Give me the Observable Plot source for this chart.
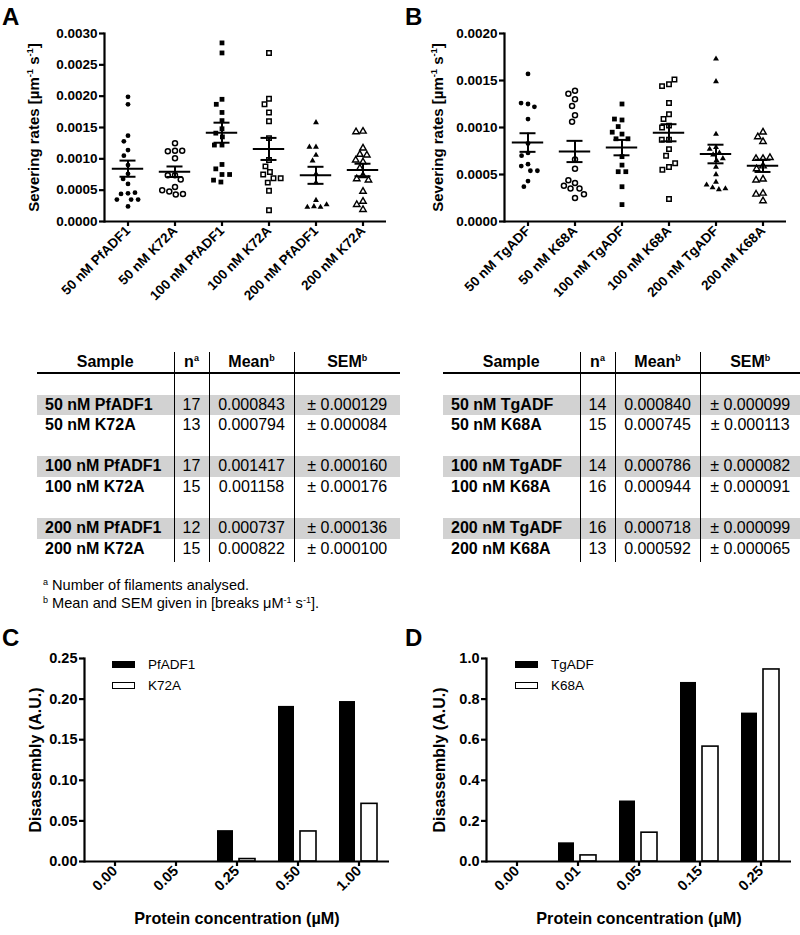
<!DOCTYPE html>
<html><head><meta charset="utf-8">
<script src="https://cdn.jsdelivr.net/npm/d3@7"></script>
<script src="https://cdn.jsdelivr.net/npm/@observablehq/plot@0.6"></script>
<style>
body{margin:0;background:#fff;}
#fig{position:relative;width:800px;height:935px;font-family:"Liberation Sans",Arial,sans-serif;color:#000;overflow:hidden;background:#fff;}
.panel{position:absolute;}
.letter{position:absolute;font-weight:bold;font-size:24px;line-height:24px;}
table.t{position:absolute;border-collapse:collapse;table-layout:fixed;font-size:16px;}
table.t td{padding:0;height:20.6px;line-height:20.6px;text-align:center;white-space:nowrap;}
table.t tr.hd td{font-weight:bold;height:20px;line-height:20px;border-bottom:2.6px solid #000;}
table.t td+td{border-left:1.6px solid #000;}
table.t td.s{text-align:left;padding-left:8px;font-weight:bold;}
table.t tr.g td{background:#d2d2d2;}
table.t sup{font-size:9px;vertical-align:6px;line-height:0;}
.foot{position:absolute;font-size:14.6px;line-height:18px;}
.foot sup{font-size:9px;vertical-align:5px;line-height:0;}
.legend{position:absolute;font-size:13.5px;}
.legend div{position:relative;height:21px;line-height:21px;}
.legend span.sw{position:absolute;left:0;top:7px;width:23px;height:7px;box-sizing:border-box;border:1.5px solid #000;}
.legend span.tx{position:absolute;left:36px;top:0;}
</style>
</head><body>
<div id="fig"></div>
<script>
// ---------------- DATA ----------------
// Panel A (PfADF1 / K72A)
const samplesA = ["50 nM PfADF1","50 nM K72A","100 nM PfADF1","100 nM K72A","200 nM PfADF1","200 nM K72A"];
const nA    = [17, 13, 17, 15, 12, 15];
const meanA = [0.000843, 0.000794, 0.001417, 0.001158, 0.000737, 0.000822];
const semA  = [0.000129, 0.000084, 0.000160, 0.000176, 0.000136, 0.000100];
const a50wt   = [0.00199,0.00187,0.00137,0.00128,0.00114,0.00105,0.00090,0.00076,0.00068,0.00060,0.00045,0.00044,0.00046,0.00035,0.00035,0.00035,0.00024];
const a50mut  = [0.00125,0.00113,0.00112,0.00113,0.00101,0.00074,0.00074,0.00067,0.00055,0.00048,0.00043,0.00044,0.00050];
const a100wt  = [0.00285,0.00269,0.00195,0.00187,0.00174,0.00161,0.00148,0.00141,0.00135,0.00122,0.00122,0.00091,0.00084,0.00075,0.00075,0.00063,0.00066];
const a100mut = [0.00269,0.00196,0.00187,0.00174,0.00160,0.00133,0.00098,0.00088,0.00079,0.00075,0.00069,0.00069,0.00062,0.00049,0.00018];
const a200wt  = [0.00158,0.00119,0.00119,0.00106,0.00097,0.00076,0.00062,0.00034,0.00024,0.00023,0.00023,0.00027];
const a200mut = [0.00144,0.00143,0.00117,0.00107,0.00106,0.00098,0.00095,0.00085,0.00073,0.00068,0.00066,0.00048,0.00032,0.00027,0.00019];
const ratesA = [a50wt, a50mut, a100wt, a100mut, a200wt, a200mut];
const ticksA = [0, 0.0005, 0.0010, 0.0015, 0.0020, 0.0025, 0.0030];

// Panel B (TgADF / K68A)
const samplesB = ["50 nM TgADF","50 nM K68A","100 nM TgADF","100 nM K68A","200 nM TgADF","200 nM K68A"];
const nB    = [14, 15, 14, 16, 16, 13];
const meanB = [0.000840, 0.000745, 0.000786, 0.000944, 0.000718, 0.000592];
const semB  = [0.000099, 0.000113, 0.000082, 0.000091, 0.000099, 0.000065];
const b50wt   = [0.00157,0.00125,0.00126,0.00122,0.00109,0.00083,0.00073,0.00070,0.00061,0.00059,0.00054,0.00054,0.00043,0.00037];
const b50mut  = [0.00139,0.00136,0.00130,0.00123,0.00113,0.00106,0.00066,0.00056,0.00041,0.00044,0.00035,0.00035,0.00038,0.00025,0.00029];
const b100wt  = [0.00125,0.00108,0.00109,0.00101,0.00093,0.00088,0.00088,0.00095,0.00069,0.00060,0.00053,0.00053,0.00037,0.00018];
const b100mut = [0.00146,0.00144,0.00151,0.00126,0.00114,0.00109,0.00102,0.00100,0.00087,0.00087,0.00077,0.00070,0.00058,0.00055,0.00062,0.00024];
const b200wt  = [0.00173,0.00149,0.00093,0.00079,0.00077,0.00073,0.00071,0.00067,0.00065,0.00058,0.00050,0.00042,0.00036,0.00034,0.00035,0.00039];
const b200mut = [0.00095,0.00090,0.00085,0.00067,0.00067,0.00068,0.00059,0.00056,0.00045,0.00044,0.00030,0.00029,0.00022];
const ratesB = [b50wt, b50mut, b100wt, b100mut, b200wt, b200mut];
const ticksB = [0, 0.0005, 0.0010, 0.0015, 0.0020];

// Panel C (disassembly, PfADF1 / K72A)
const concC   = ["0.00","0.05","0.25","0.50","1.00"];
const seriesC = ["PfADF1","K72A"];
const pfadf1  = [0, 0, 0.038, 0.191, 0.197];
const k72a    = [0, 0, 0.003, 0.037, 0.071];
const ticksC  = [0, 0.05, 0.10, 0.15, 0.20, 0.25];

// Panel D (disassembly, TgADF / K68A)
const concD   = ["0.00","0.01","0.05","0.15","0.25"];
const seriesD = ["TgADF","K68A"];
const tgadf   = [0, 0.092, 0.298, 0.882, 0.731];
const k68a    = [0, 0.030, 0.142, 0.566, 0.946];
const ticksD  = [0, 0.2, 0.4, 0.6, 0.8, 1.0];

// ---------------- STYLES ----------------
const FONT = '"Liberation Sans", Arial, sans-serif';
const SYM = [
  {symbol:"circle",   fill:"black", stroke:"none",  r:2.4, sw:0},
  {symbol:"circle",   fill:"white", stroke:"black", r:2.5, sw:1.5},
  {symbol:"square",   fill:"black", stroke:"none",  r:2.7, sw:0},
  {symbol:"square",   fill:"white", stroke:"black", r:2.5, sw:1.5},
  {symbol:"triangle", fill:"black", stroke:"none",  r:2.2, sw:0},
  {symbol:"triangle", fill:"white", stroke:"black", r:2.4, sw:1.4}
];

const fig = document.getElementById("fig");
function place(el, left, top) {
  const d = document.createElement("div");
  d.className = "panel"; d.style.left = left + "px"; d.style.top = top + "px";
  d.appendChild(el); fig.appendChild(d); return d;
}
function letter(ch, left, top) {
  const d = document.createElement("div");
  d.className = "letter"; d.textContent = ch;
  d.style.left = left + "px"; d.style.top = top + "px"; fig.appendChild(d);
}
function setLabel(svg, which, parts, fs) {
  const g = svg.querySelector(`g[aria-label="${which}"]`);
  if (!g) return;
  const t = g.querySelector("text");
  if (!t) return;
  t.textContent = "";
  t.setAttribute("font-size", fs);
  const ns = "http://www.w3.org/2000/svg";
  let shifted = false;
  for (const p of parts) {
    const ts = document.createElementNS(ns, "tspan");
    ts.textContent = p.t;
    if (p.sup) { ts.setAttribute("font-size", fs * 0.62); ts.setAttribute("dy", -fs * 0.38); shifted = true; }
    else if (shifted) { ts.setAttribute("dy", fs * 0.38); shifted = false; }
    t.appendChild(ts);
  }
}

// ---------------- SCATTER PANELS ----------------
function scatter(samples, rates, means, sems, ticks, marginLeft, labelOffset) {
  const pts = samples.flatMap((s, i) => rates[i].map(v => ({sample: s, value: v})));
  const stats = samples.map((s, i) => ({sample: s, mean: means[i], sem: sems[i]}));
  const svg = Plot.plot({
    width: 400, height: 330,
    marginTop: 33, marginBottom: 109, marginLeft, marginRight: 13,
    style: {fontFamily: FONT, fontWeight: "bold", fontSize: "13.5px", background: "transparent", color: "black"},
    fx: {domain: samples, padding: 0},
    y: {domain: [ticks[0], ticks[ticks.length - 1]]},
    marks: [
      Plot.ruleY([0], {strokeWidth: 2.2}),
      Plot.frame({anchor: "left", strokeWidth: 2.2, facetAnchor: "left"}),
      Plot.axisY({ticks, tickFormat: d3.format(".4f"), tickSize: 5, tickPadding: 2, strokeWidth: 2.2,
        label: "Severing rates", labelAnchor: "center", labelArrow: "none", labelOffset, fontSize: 13.5}),
      Plot.axisFx({anchor: "bottom", tickRotate: -45, tickSize: 5, tickPadding: 2, strokeWidth: 2.2, label: null, fontSize: 13.5}),
      ...samples.map((s, i) => Plot.dot(pts.filter(d => d.sample === s),
        Plot.dodgeX({anchor: "middle", padding: 2.2},
          {fx: "sample", y: "value", r: SYM[i].r, symbol: SYM[i].symbol, fill: SYM[i].fill,
           stroke: SYM[i].stroke, strokeWidth: SYM[i].sw}))),
      Plot.tickY(stats, {fx: "sample", y: "mean", strokeWidth: 2, insetLeft: 7.8, insetRight: 7.8}),
      Plot.tickY(stats, {fx: "sample", y: d => d.mean - d.sem, strokeWidth: 2, insetLeft: 15.5, insetRight: 15.5}),
      Plot.tickY(stats, {fx: "sample", y: d => d.mean + d.sem, strokeWidth: 2, insetLeft: 15.5, insetRight: 15.5}),
      Plot.ruleX(stats, {fx: "sample", x: null, y1: d => d.mean - d.sem, y2: d => d.mean + d.sem, strokeWidth: 2})
    ]
  });
  setLabel(svg, "y-axis label",
    [{t: "Severing rates [µm"}, {t: "-1", sup: true}, {t: " s"}, {t: "-1", sup: true}, {t: "]"}], 15);
  return svg;
}

place(scatter(samplesA, ratesA, meanA, semA, ticksA, 103, 76), 0, 0);
place(scatter(samplesB, ratesB, meanB, semB, ticksB, 103, 72), 400, 0);
letter("A", 2, 5);
letter("B", 405, 5);

// ---------------- TABLES ----------------
function table(samples, n, mean, sem, left, top, widths) {
  const tb = document.createElement("table");
  tb.className = "t";
  tb.style.left = left + "px"; tb.style.top = top + "px";
  tb.style.width = widths.reduce((a, b) => a + b, 0) + "px";
  const cg = document.createElement("colgroup");
  widths.forEach(w => { const c = document.createElement("col"); c.style.width = w + "px"; cg.appendChild(c); });
  tb.appendChild(cg);
  let html = `<tr class="hd"><td>Sample</td><td>n<sup>a</sup></td><td>Mean<sup>b</sup></td><td>SEM<sup>b</sup></td></tr>`;
  samples.forEach((s, i) => {
    if (i % 2 === 0) html += `<tr><td></td><td></td><td></td><td></td></tr>`;
    html += `<tr class="${i % 2 === 0 ? "g" : ""}"><td class="s">${s}</td><td>${n[i]}</td><td>${mean[i].toFixed(6)}</td><td>± ${sem[i].toFixed(6)}</td></tr>`;
  });
  html += `<tr><td style="height:3px"></td><td style="height:3px"></td><td style="height:3px"></td><td style="height:3px"></td></tr>`;
  tb.insertAdjacentHTML("beforeend", html);
  fig.appendChild(tb);
}
table(samplesA, nA, meanA, semA, 37, 352, [137, 35, 85, 106]);
table(samplesB, nB, meanB, semB, 443, 352, [137, 35, 85, 100]);

const foot = document.createElement("div");
foot.className = "foot"; foot.style.left = "43px"; foot.style.top = "576px";
foot.innerHTML = `<div><sup>a</sup> Number of filaments analysed.</div><div><sup>b</sup> Mean and SEM given in [breaks μM<sup>-1</sup> s<sup>-1</sup>].</div>`;
fig.appendChild(foot);

// ---------------- BAR PANELS ----------------
function bars(conc, series, v1, v2, ticks, fmt, marginLeft, marginRight, labelOffset) {
  const rows1 = conc.map((c, i) => ({conc: c, series: series[0], value: v1[i]}));
  const rows2 = conc.map((c, i) => ({conc: c, series: series[1], value: v2[i]}));
  const svg = Plot.plot({
    width: 400, height: 305,
    marginTop: 28, marginBottom: 74, marginLeft, marginRight,
    style: {fontFamily: FONT, fontWeight: "bold", fontSize: "14.5px", background: "transparent", color: "black"},
    fx: {domain: conc, padding: 0},
    x: {domain: series, paddingInner: 0.26, paddingOuter: 0.46, axis: null},
    y: {domain: [ticks[0], ticks[ticks.length - 1]]},
    marks: [
      Plot.barY(rows1, {fx: "conc", x: "series", y: "value", fill: "black"}),
      Plot.barY(rows2, {fx: "conc", x: "series", y: "value", fill: "white", stroke: "black", strokeWidth: 1.6}),
      Plot.ruleY([0], {strokeWidth: 2.2}),
      Plot.frame({anchor: "left", strokeWidth: 2.2, facetAnchor: "left"}),
      Plot.axisY({ticks, tickFormat: d3.format(fmt), tickSize: 5, tickPadding: 2, strokeWidth: 2.2,
        label: "Disassembly (A.U.)", labelAnchor: "center", labelArrow: "none", labelOffset, fontSize: 14.5}),
      Plot.axisFx({anchor: "bottom", tickRotate: -45, tickSize: 5, tickPadding: 2, strokeWidth: 2.2,
        label: "Protein concentration (µM)", labelAnchor: "center", labelArrow: "none", labelOffset: 62, fontSize: 14.5})
    ]
  });
  setLabel(svg, "y-axis label", [{t: "Disassembly (A.U.)"}], 16);
  setLabel(svg, "fx-axis label", [{t: "Protein concentration (µM)"}], 16.2);
  return svg;
}
function legend(series, left, top) {
  const d = document.createElement("div");
  d.className = "legend"; d.style.left = left + "px"; d.style.top = top + "px";
  d.innerHTML = series.map((s, i) =>
    `<div><span class="sw" style="background:${i === 0 ? "#000" : "#fff"}"></span><span class="tx">${s}</span></div>`).join("");
  fig.appendChild(d);
}
place(bars(concC, seriesC, pfadf1, k72a, ticksC, ".2f", 83, 11, 55), 0, 630);
place(bars(concD, seriesD, tgadf, k68a, ticksD, ".1f", 85, 8, 53), 400, 630);
legend(seriesC, 112, 654);
legend(seriesD, 515, 654);
letter("C", 2, 626);
letter("D", 405, 626);
</script>
</body></html>
